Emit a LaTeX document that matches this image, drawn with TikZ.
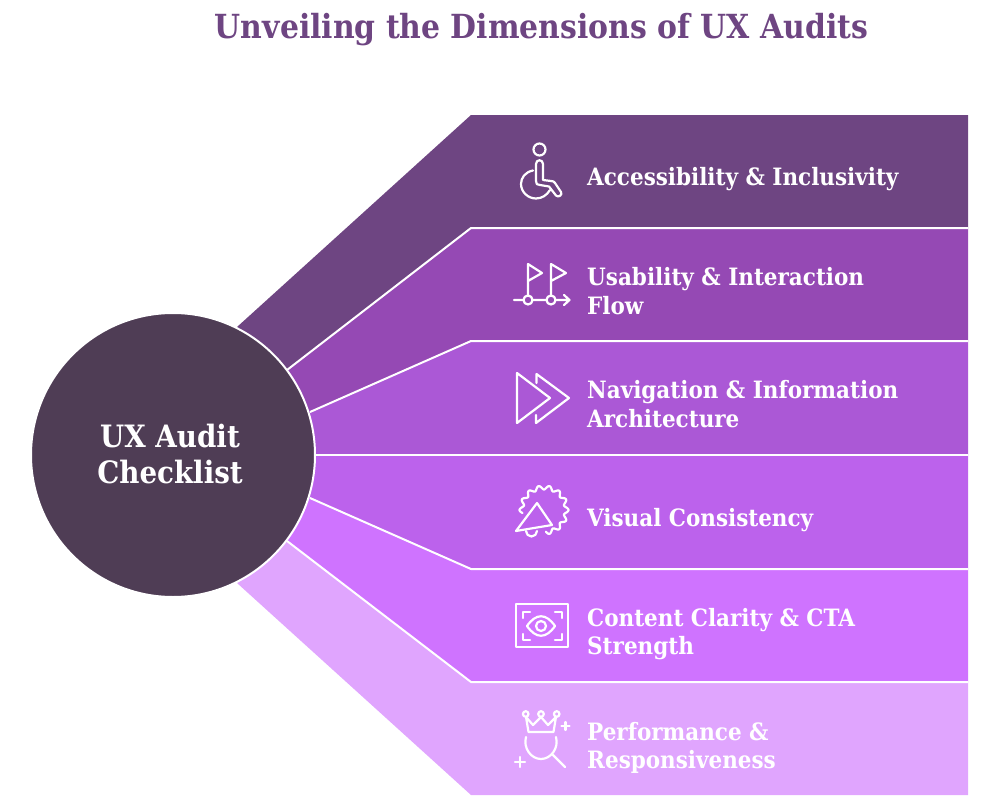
\documentclass[tikz,border=0pt]{standalone}
\usepackage{fontspec}
\setmainfont{Liberation Serif}
\newfontfamily\labelfont{DejaVu Serif Condensed Bold}
\definecolor{titlepurple}{HTML}{6E4582}
\definecolor{bandA}{HTML}{6E4582}
\definecolor{bandB}{HTML}{9549B4}
\definecolor{bandC}{HTML}{AB58D6}
\definecolor{bandD}{HTML}{BC62EC}
\definecolor{bandE}{HTML}{CF73FF}
\definecolor{bandF}{HTML}{E0A5FE}
\definecolor{hub}{HTML}{4F3D55}
\tikzset{
  sep/.style={draw=white,line width=2pt,line join=miter},
  bandlabel/.style={anchor=west,inner sep=0pt,text=white,align=left,font=\labelfont\fontsize{23.9}{28.5}\selectfont},
  icon/.style={draw=white,line width=2.2pt,line cap=round,line join=round,fill=none},
  hubstyle/.style={circle,draw=white,line width=2pt,fill=hub,minimum size=284pt,inner sep=0pt},
  hublabel/.style={inner sep=0pt,text=white,align=center,font=\labelfont\fontsize{30.8}{35.5}\selectfont}
}
\begin{document}
\begin{tikzpicture}[x=1pt,y=-1pt]
\useasboundingbox (0,0) rectangle (989,803);
\node[anchor=base,inner sep=0pt,text=titlepurple,font=\labelfont\fontsize{33.2}{36}\selectfont] (title) at (541.5,38) {Unveiling the Dimensions of UX Audits};
% bands
\fill[bandA] (237,327) -- (471,115) -- (968,115) -- (968,228) -- (471,228) -- (287,370) -- (173,455) -- cycle;
\fill[bandB] (287,370) -- (471,228) -- (968,228) -- (968,341) -- (471,341) -- (310,412) -- (173,455) -- cycle;
\fill[bandC] (310,412) -- (471,341) -- (968,341) -- (968,455) -- (173,455) -- cycle;
\fill[bandD] (173,455) -- (968,455) -- (968,569) -- (471,569) -- (310,498) -- cycle;
\fill[bandE] (173,455) -- (310,498) -- (471,569) -- (968,569) -- (968,682) -- (471,682) -- (287,541) -- cycle;
\fill[bandF] (173,455) -- (287,541) -- (471,682) -- (968,682) -- (968,795) -- (471,795) -- (237,583) -- cycle;
\draw[sep] (287,370) -- (471,228) -- (968,228);
\draw[sep] (310,412) -- (471,341) -- (968,341);
\draw[sep] (315,455) -- (968,455);
\draw[sep] (310,498) -- (471,569) -- (968,569);
\draw[sep] (287,541) -- (471,682) -- (968,682);
\node[hubstyle] (hub) at (173,455) {};
\node[hublabel] (hubtext) at (170,454) {UX Audit\\Checklist};
% labels
\node[bandlabel] (l1) at (587,179.5) {Accessibility \& Inclusivity};
\node[bandlabel] (l2) at (587,291) {Usability \& Interaction\\Flow};
\node[bandlabel] (l3) at (587,404) {Navigation \& Information\\Architecture};
\node[bandlabel] (l4) at (587,520) {Visual Consistency};
\node[bandlabel] (l5) at (587,634) {Content Clarity \& CTA\\Strength};
\node[bandlabel] (l6) at (587,748) {Performance \&\\Responsiveness};
% wheelchair
\draw[icon] (539.5,149.5) circle[radius=6];
\draw[icon] (536,164) -- (536,181) .. controls (536,184) and (537,185) .. (540,185) -- (549,186.5) -- (556,195.5) .. controls (558,198) and (563,195) .. (561,192) -- (555,183) .. controls (554,181.5) and (553,181) .. (551,181) -- (543,180) -- (543,164) .. controls (543,159) and (536,159) .. (536,164) -- cycle;
\draw[icon] (533,170.5) .. controls (525,172) and (521,178) .. (521,184) .. controls (521,192) and (528,198.5) .. (536,198.5) .. controls (542,198.5) and (547,195) .. (550,190);
% flags
\draw[icon] (514,300) -- (523.5,300) (532.5,300) -- (546.5,300) (555.5,300) -- (569,300) (564,295) -- (569.5,300) -- (564,305);
\draw[icon] (528,300) circle[radius=4.5] (551,300) circle[radius=4.5];
\draw[icon] (528,295.5) -- (528,264) -- (542,273) -- (528,281);
\draw[icon] (551,295.5) -- (551,264) -- (566,273) -- (551,281);
% navigation
\draw[icon] (517,373) -- (550,398) -- (517,423) -- cycle;
\draw[icon] (536.5,383) -- (536.5,374) -- (569,398) -- (536,423) -- (536,415);
% megaphone
\draw[icon] (537,503) -- (552,525) -- (516,531) -- cycle;
\draw[icon] (526,531) arc[start angle=180,end angle=0,radius=5.5];
\draw[icon,smooth,samples=160,domain=172:445,variable=\t] plot ({544+(22.5+2*cos(14*\t))*cos(\t)},{510+(22.5+2*cos(14*\t))*sin(\t)});
% eye
\draw[icon] (516,604) rectangle (568,647);
\draw[icon] (523,618) -- (523,612) -- (530,612) (555,612) -- (562,612) -- (562,618) (562,634) -- (562,640) -- (555,640) (530,640) -- (523,640) -- (523,634);
\draw[icon] (527,626) .. controls (536,613) and (546,613) .. (555,626) .. controls (546,639) and (536,639) .. (527,626) -- cycle;
\draw[icon] (541,626) circle[radius=5];
% crown and magnifier
\draw[icon] (525.7,714) circle[radius=2.8] (541,714) circle[radius=2.8] (556.7,714) circle[radius=2.8];
\draw[icon] (526,717) -- (528.5,732) -- (553.5,732) -- (556,717) -- (548,725) -- (541,717) -- (533,725) -- cycle;
\draw[icon] (526,737) .. controls (523,748) and (531,759) .. (541,759) .. controls (551,759) and (559,748) .. (556,737);
\draw[icon] (553,755) -- (565,767);
\draw[icon] (561.5,726) -- (569.5,726) (565.5,722) -- (565.5,730);
\draw[icon] (515,762) -- (525,762) (520,757) -- (520,767);
\end{tikzpicture}
\end{document}
